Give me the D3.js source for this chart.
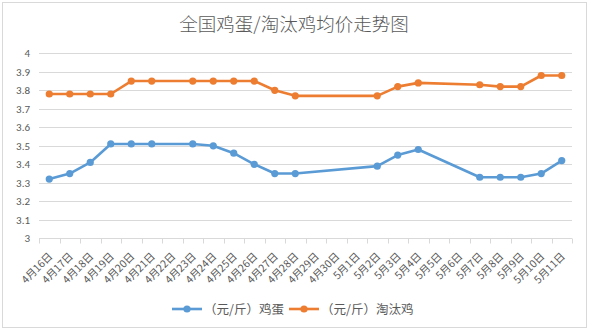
<!DOCTYPE html>
<html><head><meta charset="utf-8">
<script src="https://cdn.jsdelivr.net/npm/d3@7"></script>
<style>body{margin:0;background:#fff;}svg{display:block;font-family:"Microsoft YaHei","Noto Sans CJK SC","DejaVu Sans",sans-serif;}</style>
</head><body>
<svg id="c" width="589" height="331"></svg>
<script>
const title = "全国鸡蛋/淘汰鸡均价走势图";
const categories = ["4月16日","4月17日","4月18日","4月19日","4月20日","4月21日","4月22日","4月23日","4月24日","4月25日","4月26日","4月27日","4月28日","4月29日","4月30日","5月1日","5月2日","5月3日","5月4日","5月5日","5月6日","5月7日","5月8日","5月9日","5月10日","5月11日"];
const eggName = "（元/斤）鸡蛋";
const eggValues = [3.32,3.35,3.41,3.51,3.51,3.51,null,3.51,3.50,3.46,3.40,3.35,3.35,null,null,null,3.39,3.45,3.48,null,null,3.33,3.33,3.33,3.35,3.42];
const henName = "（元/斤）淘汰鸡";
const henValues = [3.78,3.78,3.78,3.78,3.85,3.85,null,3.85,3.85,3.85,3.85,3.80,3.77,null,null,null,3.77,3.82,3.84,null,null,3.83,3.82,3.82,3.88,3.88];
const yTicks = [3,3.1,3.2,3.3,3.4,3.5,3.6,3.7,3.8,3.9,4];

const svg = d3.select("#c");
const textColor = "#595959";
svg.append("rect").attr("x",2.5).attr("y",2.5).attr("width",584).attr("height",325)
  .attr("fill","#fff").attr("stroke","#d9d9d9");

const x = d3.scaleBand().domain(categories).range([39,572]);
const y = d3.scaleLinear().domain([3,4]).range([238.3,53.3]);

svg.append("text").attr("x",294).attr("y",31).attr("text-anchor","middle")
  .attr("font-size",18.5).attr("fill",textColor).attr("font-weight",300).text(title);

// grid
svg.append("g").selectAll("line").data(yTicks.slice(1)).join("line")
  .attr("x1",39).attr("x2",572).attr("y1",d=>Math.round(y(d))+0.5).attr("y2",d=>Math.round(y(d))+0.5)
  .attr("stroke","#d9d9d9");

// y axis labels
const yAxis = d3.axisLeft(y).tickValues(yTicks).tickSize(0).tickPadding(0)
  .tickFormat(d=>d3.format("~g")(d));
const gy = svg.append("g").attr("transform","translate(30,0)").call(yAxis);
gy.select(".domain").remove();
gy.selectAll("text").attr("fill",textColor).attr("font-size",11).attr("font-family","Calibri,'Liberation Sans','DejaVu Sans',sans-serif");

// x axis
const tickPos = categories.map((c,i)=>39 + i*x.step()).concat([572]);
const gx = svg.append("g");
gx.append("line").attr("x1",39).attr("x2",572).attr("y1",238.5).attr("y2",238.5).attr("stroke","#d9d9d9");
gx.selectAll("line.t").data(tickPos).join("line").attr("class","t")
  .attr("x1",d=>Math.round(d)+0.5).attr("x2",d=>Math.round(d)+0.5).attr("y1",238.5).attr("y2",243.5)
  .attr("stroke","#d9d9d9");
gx.selectAll("text").data(categories).join("text")
  .attr("transform",d=>`translate(${x(d)+x.bandwidth()/2+4},${257}) rotate(-45)`)
  .attr("text-anchor","end").attr("font-size",10.5).attr("fill",textColor)
  .attr("font-family","'Noto Sans CJK SC',sans-serif")
  .text(d=>d);

function drawSeries(vals, color){
  const pts = categories.map((c,i)=>({c, v: vals[i]})).filter(d=>d.v!=null);
  const line = d3.line().x(d=>x(d.c)+x.bandwidth()/2).y(d=>y(d.v));
  svg.append("path").datum(pts).attr("d",line).attr("fill","none")
    .attr("stroke",color).attr("stroke-width",2.6).attr("stroke-linejoin","round");
  svg.append("g").selectAll("circle").data(pts).join("circle")
    .attr("cx",d=>x(d.c)+x.bandwidth()/2).attr("cy",d=>y(d.v)).attr("r",3.6).attr("fill",color);
}
drawSeries(henValues, "#ed7d31");
drawSeries(eggValues, "#5b9bd5");

// legend
const legend = [{name:eggName,color:"#5b9bd5",x:172},{name:henName,color:"#ed7d31",x:289}];
const lg = svg.append("g");
legend.forEach(l=>{
  lg.append("line").attr("x1",l.x).attr("x2",l.x+30).attr("y1",309).attr("y2",309).attr("stroke",l.color).attr("stroke-width",2.6);
  lg.append("circle").attr("cx",l.x+15).attr("cy",309).attr("r",3.6).attr("fill",l.color);
  lg.append("text").attr("x",l.x+32).attr("y",313.5).attr("font-size",12.5).attr("fill",textColor)
    .attr("font-family","'Noto Sans CJK SC',sans-serif").text(l.name);
});
</script>
</body></html>
